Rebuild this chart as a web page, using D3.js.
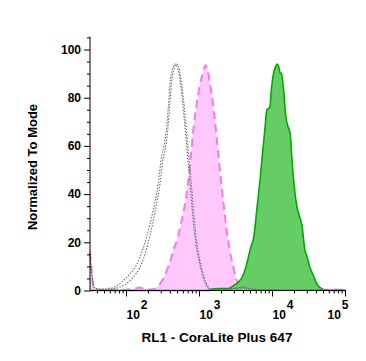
<!DOCTYPE html>
<html><head><meta charset="utf-8">
<script src="https://cdn.jsdelivr.net/npm/d3@7"></script>
<style>body{margin:0;background:#fff}svg{display:block}text{font-family:"Liberation Sans",Arial,sans-serif;font-weight:bold;fill:#000}</style>
</head><body><svg id="c" width="366" height="361"></svg>
<script>
// x values are log10(fluorescence), y values are % of mode
const xDomainLog = [1.507, 5.0];
const yTicks = [0, 20, 40, 60, 80, 100];
const xExponents = [2, 3, 4, 5];
const xTitle = "RL1 - CoraLite Plus 647";
const yTitle = "Normalized To Mode";

const grayA = [[1.507,15],[1.53,8],[1.56,1.5],[1.62,0.5],[1.75,0.8],[1.85,1.5],[1.96,4],[2.06,7],[2.15,11],[2.23,17],[2.29,23],[2.37,33],[2.44,44],[2.49,56],[2.52,60],[2.55,66],[2.58,76],[2.61,88],[2.64,92],[2.67,94],[2.70,93],[2.72,91],[2.75,85],[2.78,77],[2.81,67],[2.84,57],[2.87,47],[2.90,36],[2.93,26],[2.97,17],[3.01,11],[3.05,6],[3.10,2],[3.15,0.6],[3.3,0.3],[3.5,0.8],[3.6,1.2],[3.7,0.6],[3.9,0.3],[4.3,0.2],[5.0,0.2]];
const grayB = [[1.507,14],[1.53,7],[1.57,1],[1.65,0.4],[1.8,0.6],[1.9,1.2],[2.0,2.8],[2.1,5.5],[2.19,9.5],[2.27,16],[2.33,23],[2.40,33],[2.47,45],[2.51,55],[2.54,59],[2.57,66],[2.60,77],[2.63,88],[2.66,92],[2.69,94],[2.72,93],[2.74,90],[2.77,84],[2.80,76],[2.83,66],[2.86,56],[2.89,46],[2.92,35],[2.95,25],[2.99,16],[3.03,10],[3.07,5.5],[3.12,1.8],[3.17,0.5],[3.3,0.3],[3.5,1],[3.62,1.5],[3.72,0.6],[3.9,0.3],[4.3,0.2],[5.0,0.2]];
const pink = [[1.507,16],[1.53,8],[1.55,2],[1.6,0.4],[1.8,0.3],[2.0,0.3],[2.12,0.8],[2.19,1.2],[2.26,0.6],[2.35,0.4],[2.42,1.2],[2.47,3],[2.52,5.5],[2.56,8.5],[2.61,12.5],[2.65,17],[2.70,21],[2.74,26],[2.79,33],[2.83,40],[2.87,50],[2.92,66],[2.97,78],[3.01,85],[3.05,90],[3.09,93.5],[3.12,91],[3.15,86],[3.19,78],[3.22,70],[3.26,58],[3.30,46],[3.34,35],[3.38,25],[3.42,17],[3.46,11],[3.50,6],[3.54,2.5],[3.58,0.8],[3.65,0.3],[4.0,0.3],[4.5,0.3],[5.0,0.3]];
const green = [[1.507,0],[2.5,0],[3.12,0],[3.2,0.7],[3.3,0.8],[3.4,0.8],[3.47,2],[3.54,3.5],[3.59,5.5],[3.63,8.5],[3.67,13],[3.71,18],[3.75,22],[3.79,33],[3.84,47],[3.87,57],[3.90,66],[3.93,75],[3.97,76],[3.99,83],[4.02,90],[4.05,93],[4.07,94],[4.09,93],[4.11,90.5],[4.13,90],[4.16,83],[4.19,72],[4.22,68],[4.25,65],[4.27,56],[4.29,48],[4.34,35],[4.38,30.5],[4.41,27],[4.45,17],[4.48,14],[4.52,9.5],[4.57,6],[4.61,3],[4.66,1.2],[4.72,0.2],[4.8,0],[5.0,0]];

const svg = d3.select("#c");
const x = d3.scaleLog().domain(xDomainLog.map(v => 10 ** v)).range([90, 345]);
const y = d3.scaleLinear().domain([0, 100]).range([290.5, 49.5]);
const yTop = 105.4;

const area = d3.area().x(d => x(10 ** d[0])).y0(y(0)).y1(d => y(d[1])).curve(d3.curveMonotoneX);
const line = d3.line().x(d => x(10 ** d[0])).y(d => y(d[1])).curve(d3.curveMonotoneX);

// pink
svg.append("path").attr("d", area(pink)).attr("fill", "#ffc8fa");
svg.append("path").attr("d", line(pink)).attr("fill", "none").attr("stroke", "#f878ee").attr("stroke-width", 2).attr("stroke-dasharray", "8,5");
// green
svg.append("path").attr("d", area(green)).attr("fill", "#66cc66");
svg.append("path").attr("d", line(green)).attr("fill", "none").attr("stroke", "#00aa00").attr("stroke-width", 1.6);
// gray dotted
[grayA, grayB].forEach(s => svg.append("path").attr("d", line(s)).attr("fill", "none").attr("stroke", "#6e6e6e").attr("stroke-width", 1.1).attr("stroke-dasharray", "1.5,1.5"));

// Y axis
const yMinor = d3.range(0, yTop, 5).filter(v => v % 20 !== 0);
const gy = svg.append("g").attr("transform", "translate(90,0)");
gy.call(d3.axisLeft(y).tickValues(yTicks).tickSize(6).tickPadding(3).tickFormat(d3.format("d")));
gy.append("g").call(d3.axisLeft(y).tickValues(yMinor).tickSize(3).tickFormat(""));
gy.selectAll(".domain").remove();
gy.append("line").attr("x1", 0).attr("x2", 0).attr("y1", y(yTop)).attr("y2", y(0)).attr("stroke", "#000");
gy.selectAll("text").style("font-size", "12px");
gy.selectAll("line").attr("stroke", "#000");

// X axis
const xMinor = [];
for (let e = 1; e <= 4; e++) for (let m = 2; m <= 9; m++) { const v = m * 10 ** e; if (v >= 10 ** xDomainLog[0]) xMinor.push(v); }
const gx = svg.append("g").attr("transform", "translate(0," + y(0) + ")");
gx.call(d3.axisBottom(x).tickValues(xExponents.map(e => 10 ** e)).tickSize(6).tickFormat(""));
gx.append("g").call(d3.axisBottom(x).tickValues(xMinor).tickSize(3).tickFormat(""));
gx.selectAll(".domain").remove();
gx.append("line").attr("x1", 90).attr("x2", 346).attr("stroke", "#000");
gx.selectAll("line").attr("stroke", "#000");
const lastIdx = xExponents.length - 1;
gx.selectAll(".tick").filter(function () { return this.parentNode === gx.node(); }).each(function (d, i) {
  const t = d3.select(this).append("text").attr("y", 28).attr("x", i === lastIdx ? -18 : 0).attr("text-anchor", "start").style("font-size", "12px");
  t.append("tspan").text("10");
  t.append("tspan").attr("dy", -10).attr("dx", 1).style("font-size", "12px").text(xExponents[i]);
});

// Titles
svg.append("text").attr("x", 217).attr("y", 342).attr("text-anchor", "middle").style("font-size", "13.5px").text(xTitle);
svg.append("text").attr("transform", "translate(37,167) rotate(-90)").attr("text-anchor", "middle").style("font-size", "13px").text(yTitle);
</script></body></html>
